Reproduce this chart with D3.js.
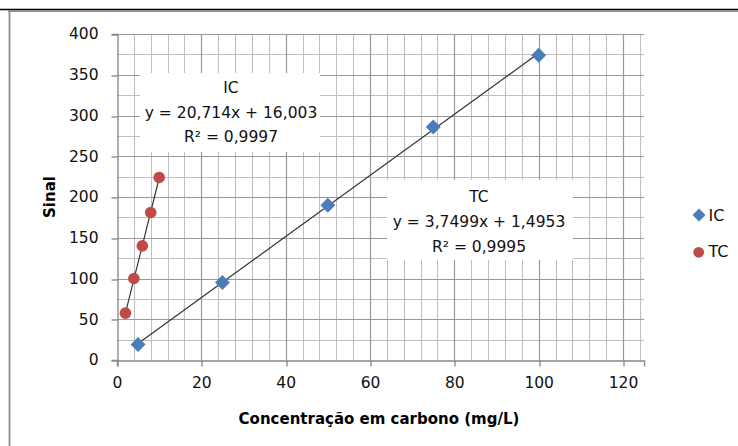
<!DOCTYPE html>
<html>
<head>
<meta charset="utf-8">
<script src="https://cdn.jsdelivr.net/npm/d3@7"></script>
<style>
  html, body { margin: 0; padding: 0; background: #fff; }
  svg { display: block; font-family: "DejaVu Sans", sans-serif; }
</style>
</head>
<body>
<svg id="chart" width="738" height="446"></svg>
<script>
// Calibration data: signal vs carbon concentration
const seriesNames = ["IC", "TC"];
const icConc = [5, 25, 50, 75, 100];
const icSignal = [19, 95, 190, 286, 374];
const tcConc = [2, 4, 6, 8, 10];
const tcSignal = [57.5, 100, 140, 181, 224];

// Linear fits (blue series, red series) with their captions
const trendNames = ["TC", "IC"];
const trendSlopes = [3.7499, 20.714];
const trendIntercepts = [1.4953, 16.003];
const trendR2 = [0.9995, 0.9997];

// Axis ticks
const xTicks = [0, 20, 40, 60, 80, 100, 120];
const yTicks = [0, 50, 100, 150, 200, 250, 300, 350, 400];
const xMinorStep = 4;
const yMinorStep = 25;

const colors = ["#4a7ebb", "#be4b48"];
const svg = d3.select("#chart");

// Outer frame
svg.append("line").attr("x1", 0).attr("x2", 738).attr("y1", 9.5).attr("y2", 9.5)
  .attr("stroke", "#000").attr("stroke-width", 1.6);
svg.append("line").attr("x1", 8).attr("x2", 738).attr("y1", 11.2).attr("y2", 11.2)
  .attr("stroke", "#8c8c8c").attr("stroke-width", 1.8);
svg.append("line").attr("x1", 9.5).attr("x2", 9.5).attr("y1", 10.3).attr("y2", 446)
  .attr("stroke", "#8c8c8c").attr("stroke-width", 1.8);

const x = d3.scaleLinear().domain([0, 125]).range([117, 644.1]);
const y = d3.scaleLinear().domain([0, 400]).range([360, 34]);

const fmt = v => String(v).replace(".", ",");

// Gridlines: minor first, then major on top
const grid = svg.append("g");
const xMinor = d3.range(xMinorStep, 125, xMinorStep).filter(v => v % 20 !== 0);
const yMinor = d3.range(yMinorStep, 400, yMinorStep).filter(v => v % 50 !== 0);
grid.selectAll(".vmin").data(xMinor).join("line")
  .attr("x1", d => Math.round(x(d)) + 0.5).attr("x2", d => Math.round(x(d)) + 0.5)
  .attr("y1", y(400)).attr("y2", y(0))
  .attr("stroke", "#bfbfbf").attr("stroke-width", 1.1);
grid.selectAll(".hmin").data(yMinor).join("line")
  .attr("x1", x(0)).attr("x2", x(125))
  .attr("y1", d => Math.round(y(d)) + 0.5).attr("y2", d => Math.round(y(d)) + 0.5)
  .attr("stroke", "#bfbfbf").attr("stroke-width", 1.1);
grid.selectAll(".vmaj").data(xTicks.filter(v => v > 0)).join("line")
  .attr("x1", d => Math.round(x(d)) + 0.5).attr("x2", d => Math.round(x(d)) + 0.5)
  .attr("y1", y(400)).attr("y2", y(0))
  .attr("stroke", "#999").attr("stroke-width", 1.2);
grid.selectAll(".hmaj").data(yTicks.filter(v => v > 0)).join("line")
  .attr("x1", x(0)).attr("x2", x(125))
  .attr("y1", d => Math.round(y(d)) + 0.5).attr("y2", d => Math.round(y(d)) + 0.5)
  .attr("stroke", "#999").attr("stroke-width", 1.2);

// Axes
const xAxis = svg.append("g").attr("transform", `translate(0,${Math.round(y(0)) + 0.5})`)
  .call(d3.axisBottom(x).tickValues(xTicks).tickSize(6).tickPadding(10).tickFormat(d3.format("d")));
const yAxis = svg.append("g").attr("transform", `translate(${Math.round(x(0)) + 0.5},0)`)
  .call(d3.axisLeft(y).tickValues(yTicks).tickSize(6).tickPadding(13).tickFormat(d3.format("d")));
[xAxis, yAxis].forEach(a => {
  a.select(".domain").attr("stroke", "#868686").attr("stroke-width", 1.3);
  a.selectAll(".tick line").attr("stroke", "#868686").attr("stroke-width", 1.3);
  a.selectAll(".tick text").attr("fill", "#111")
    .style("font-family", "DejaVu Sans").style("font-size", "15.5px");
});
xAxis.selectAll(".tick line").attr("transform", d => `translate(${Math.round(x(d)) + 0.5 - x(d)},0)`);
yAxis.selectAll(".tick line").attr("transform", d => `translate(0,${Math.round(y(d)) + 0.5 - y(d)})`);

// Axis titles
svg.append("text").attr("x", 379).attr("y", 424).attr("text-anchor", "middle")
  .attr("font-weight", "bold").attr("font-size", 15).attr("fill", "#000")
  .text("Concentração em carbono (mg/L)");
svg.append("text").attr("transform", "translate(55,197) rotate(-90)")
  .attr("text-anchor", "middle").attr("font-weight", "bold").attr("font-size", 15)
  .attr("fill", "#000").text("Sinal");

// Trend lines
const concs = [icConc, tcConc];
const trends = svg.append("g");
concs.forEach((c, i) => {
  const [x0, x1] = d3.extent(c);
  trends.append("line")
    .attr("x1", x(x0)).attr("y1", y(trendSlopes[i] * x0 + trendIntercepts[i]))
    .attr("x2", x(x1)).attr("y2", y(trendSlopes[i] * x1 + trendIntercepts[i]))
    .attr("stroke", "#333").attr("stroke-width", 1.2);
});

// Markers
const marks = svg.append("g");
const diamond = d3.symbol().type(d3.symbolSquare).size(112);
marks.selectAll(".ic").data(d3.zip(icConc, icSignal)).join("path")
  .attr("d", diamond())
  .attr("transform", d => `translate(${x(d[0])},${y(d[1])}) rotate(45)`)
  .attr("fill", colors[0]);
marks.selectAll(".tc").data(d3.zip(tcConc, tcSignal)).join("circle")
  .attr("cx", d => x(d[0])).attr("cy", d => y(d[1])).attr("r", 5.8)
  .attr("fill", colors[1]);

// Trend captions on white boxes
const boxes = [
  { x0: 387, y0: 180, x1: 573, y1: 260, cx: 479, base: 202.3 },
  { x0: 140, y0: 73, x1: 320, y1: 152, cx: 231, base: 93 }
];
boxes.forEach((b, i) => {
  svg.append("rect").attr("x", b.x0).attr("y", b.y0)
    .attr("width", b.x1 - b.x0).attr("height", b.y1 - b.y0).attr("fill", "#fff");
  const lines = [
    trendNames[i],
    `y = ${fmt(trendSlopes[i])}x + ${fmt(trendIntercepts[i])}`,
    `R² = ${fmt(trendR2[i])}`
  ];
  svg.append("g").selectAll("text").data(lines).join("text")
    .attr("x", b.cx).attr("y", (d, k) => b.base + k * 24.6)
    .attr("text-anchor", "middle").attr("font-size", 15.5).attr("fill", "#111")
    .text(d => d);
});

// Legend
const legend = svg.append("g");
legend.append("path").attr("d", d3.symbol().type(d3.symbolSquare).size(84)())
  .attr("transform", "translate(699,215) rotate(45)").attr("fill", colors[0]);
legend.append("circle").attr("cx", 698.7).attr("cy", 252.3).attr("r", 5.4).attr("fill", colors[1]);
legend.selectAll("text").data(seriesNames).join("text")
  .attr("x", 708.5).attr("y", (d, i) => [220.5, 256.7][i])
  .attr("font-size", 16).attr("fill", "#111").text(d => d);
</script>
</body>
</html>
